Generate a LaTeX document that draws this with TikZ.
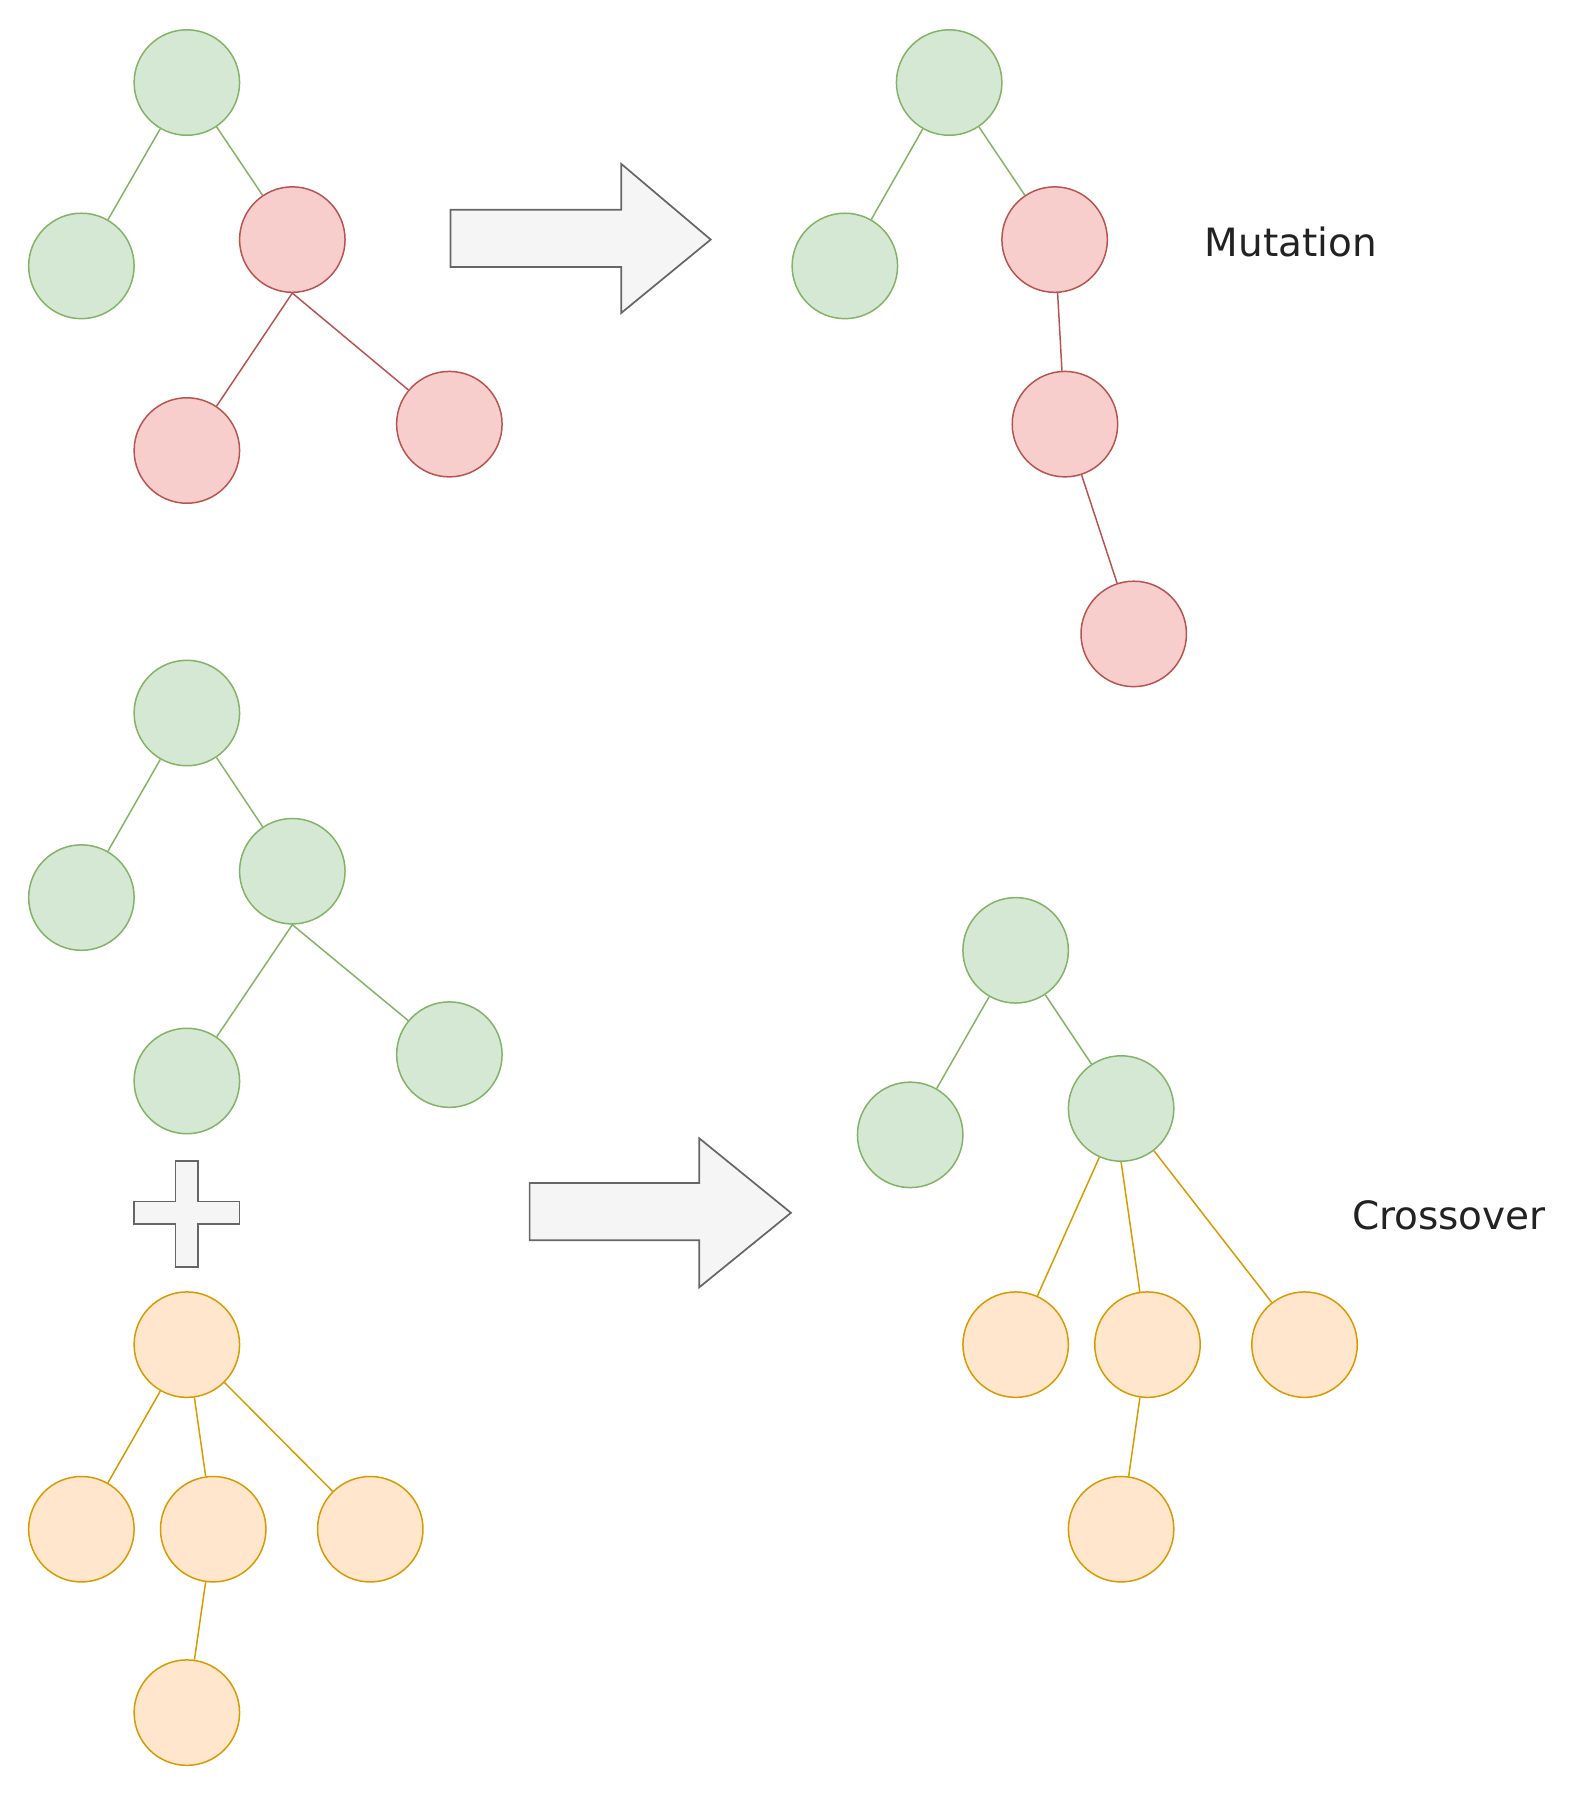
\documentclass[tikz,border=0pt]{standalone}
\usepackage{fontspec}
\setmainfont{DejaVu Sans}
\begin{document}
\begin{tikzpicture}[x=1pt,y=-1pt,
  n/.style={circle,minimum size=92pt,inner sep=0pt,line width=1.3pt},
  g/.style={n,fill=green!10!white,fill={rgb,255:red,213;green,232;blue,212},draw={rgb,255:red,130;green,179;blue,102}},
  r/.style={n,fill={rgb,255:red,248;green,206;blue,204},draw={rgb,255:red,184;green,84;blue,80}},
  o/.style={n,fill={rgb,255:red,255;green,230;blue,204},draw={rgb,255:red,215;green,155;blue,0}},
  ge/.style={draw={rgb,255:red,130;green,179;blue,102},line width=1.3pt},
  re/.style={draw={rgb,255:red,184;green,84;blue,80},line width=1.3pt},
  oe/.style={draw={rgb,255:red,215;green,155;blue,0},line width=1.3pt},
  big/.style={fill={rgb,255:red,245;green,245;blue,245},draw={rgb,255:red,102;green,102;blue,102},line width=1.5pt},
  lbl/.style={font=\fontsize{34}{40}\selectfont,text={rgb,255:red,34;green,34;blue,34}}]
\useasboundingbox (0,0) rectangle (1370,1565);
% mutation before
\node[g] (a1) at (163,72) {};
\node[g] (a2) at (71,232) {};
\node[r] (a3) at (255,209) {};
\node[r] (a4) at (163,393) {};
\node[r] (a5) at (392,370) {};
\draw[ge] (a1)--(a2) (a1)--(a3);
\draw[re] (a3.south)--(a4) (a3.south)--(a5);
\draw[big] (393,183)--(542,183)--(542,143)--(620,209)--(542,273)--(542,233)--(393,233)--cycle;
% mutation after
\node[g] (b1) at (828,72) {};
\node[g] (b2) at (737,232) {};
\node[r] (b3) at (920,209) {};
\node[r] (b4) at (929,370) {};
\node[r] (b5) at (989,553) {};
\draw[ge] (b1)--(b2) (b1)--(b3);
\draw[re] (b3)--(b4) (b4)--(b5);
\node[lbl] (mt) at (1126,211) {Mutation};
% crossover parents
\node[g] (c1) at (163,622) {};
\node[g] (c2) at (71,783) {};
\node[g] (c3) at (255,760) {};
\node[g] (c4) at (163,943) {};
\node[g] (c5) at (392,920) {};
\draw[ge] (c1)--(c2) (c1)--(c3) (c3.south)--(c4) (c3.south)--(c5);
\draw[big] (153,1013)--(173,1013)--(173,1048)--(209,1048)--(209,1068)--(173,1068)--(173,1105)--(153,1105)--(153,1068)--(117,1068)--(117,1048)--(153,1048)--cycle;
\node[o] (d1) at (163,1173) {};
\node[o] (d2) at (71,1334) {};
\node[o] (d3) at (186,1334) {};
\node[o] (d4) at (323,1334) {};
\node[o] (d5) at (163,1494) {};
\draw[oe] (d1)--(d2) (d1)--(d3) (d1)--(d4) (d3)--(d5);
\draw[big] (462,1032)--(610,1032)--(610,993)--(690,1058)--(610,1123)--(610,1082)--(462,1082)--cycle;
% crossover result
\node[g] (e1) at (886,829) {};
\node[g] (e2) at (794,990) {};
\node[g] (e3) at (978,967) {};
\node[o] (e4) at (886,1173) {};
\node[o] (e5) at (1001,1173) {};
\node[o] (e6) at (1138,1173) {};
\node[o] (e7) at (978,1334) {};
\draw[ge] (e1)--(e2) (e1)--(e3);
\draw[oe] (e3)--(e4) (e3.south)--(e5) (e3)--(e6) (e5)--(e7);
\node[lbl] (co) at (1264,1060) {Crossover};
\end{tikzpicture}
\end{document}
